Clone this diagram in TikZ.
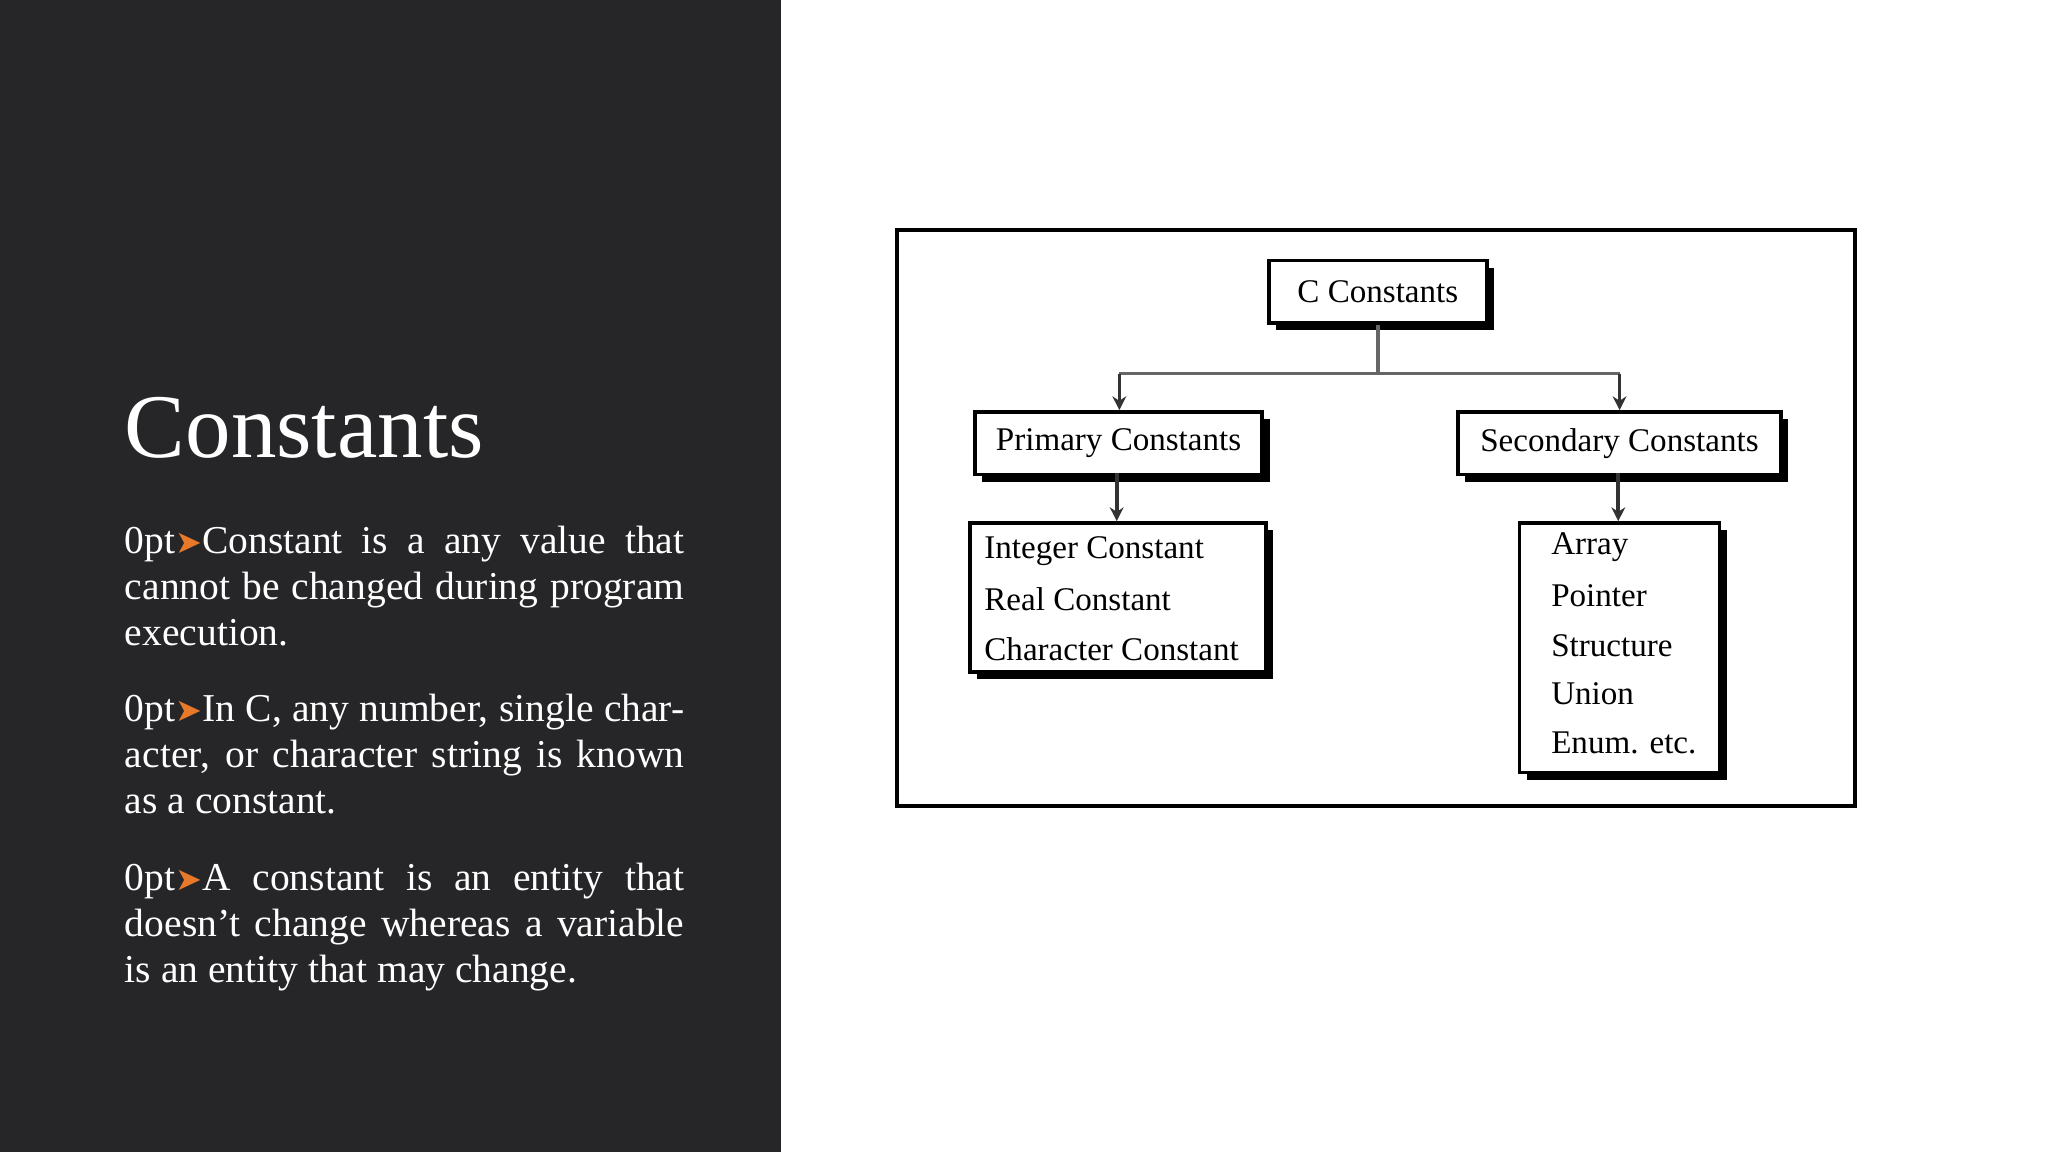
\documentclass[tikz,border=0pt]{standalone}
\usepackage{fontspec}
\setmainfont{Liberation Serif}
\newfontfamily\symfont{DejaVu Sans}
\usetikzlibrary{arrows.meta}
\definecolor{panel}{HTML}{262628}
\definecolor{arrowor}{HTML}{E8782A}
\newcommand{\bul}{{\color{arrowor}\symfont\fontsize{7pt}{10pt}\selectfont ➤}}
\tikzset{
 box/.style={draw=black,line width=0.8pt,fill=white},
 btxt/.style={font=\fontsize{7.2pt}{8pt}\selectfont,inner sep=0},
 para/.style={anchor=north west,text width=4.28cm,align=justify,inner sep=0,text=white,font=\fontsize{8.6pt}{10pt}\selectfont\hyphenpenalty=10000\exhyphenpenalty=10000},
 conn/.style={draw=gray!80!black,line width=0.8pt},
 arr/.style={conn,draw=black!80,-{Stealth[length=3pt,width=3pt]}}
}
\begin{document}
\begin{tikzpicture}[x=0.01cm,y=-0.01cm]
\useasboundingbox (0,0) rectangle (1568,882);
\fill[white] (0,0) rectangle (1568,882);
\fill[panel] (0,0) rectangle (598,882);
\node[anchor=base west,inner sep=0,text=white,font=\fontsize{19.8pt}{22pt}\selectfont] (title) at (95,350) {Constants};
\node[para] (p1) at (95,402) {\bul Constant is a any value that cannot be changed during program execution.};
\node[para] (p2) at (95,531) {\bul In C, any number, single character, or character string is known as a constant.};
\node[para] (p3) at (95,660) {\bul A constant is an entity that doesn't change whereas a variable is an entity that may change.};
% diagram frame
\draw[line width=0.9pt] (687,176) rectangle (1420,617);
% shadows
\fill (977,205) rectangle (1144,253);
\fill (752,321) rectangle (972,369);
\fill (1122,321) rectangle (1369,369);
\fill (748,406) rectangle (975,520);
\fill (1169,406) rectangle (1322,597);
% boxes
\node[box,minimum width=167*0.01cm,minimum height=48*0.01cm,anchor=north west] (c) at (970,198) {};
\node[btxt] at (c.center) {C Constants};
\node[box,minimum width=220*0.01cm,minimum height=48*0.01cm,anchor=north west] (pc) at (745,314) {};
\node[btxt] at (pc.center) {Primary Constants};
\node[box,minimum width=247*0.01cm,minimum height=48*0.01cm,anchor=north west] (sc) at (1115,314) {};
\node[btxt] at (sc.center) {Secondary Constants};
\node[box,minimum width=227*0.01cm,minimum height=114*0.01cm,anchor=north west] (pl) at (741,399) {};
\node[btxt,anchor=west] at (753,422) {Integer Constant};
\node[btxt,anchor=west] at (753,459) {Real Constant};
\node[btxt,anchor=west] at (753,497) {Character Constant};
\node[box,minimum width=153*0.01cm,minimum height=191*0.01cm,anchor=north west] (sl) at (1162,399) {};
\node[btxt,anchor=west] at (1187,419) {Array};
\node[btxt,anchor=west] at (1187,456) {Pointer};
\node[btxt,anchor=west] at (1187,494) {Structure};
\node[btxt,anchor=west] at (1187,531) {Union};
\node[btxt,anchor=west] at (1187,569) {Enum. etc.};
% connectors
\coordinate (j) at (1055,286);
\draw[conn] (c.south -| j) -- (j);
\draw[conn] (857,286) -- (1240,286);
\draw[arr] (857,286) -- (857,314);
\draw[arr] (1240,286) -- (1240,314);
\draw[arr] (855,362) -- (855,399);
\draw[arr] (1239,362) -- (1239,399);
\end{tikzpicture}
\end{document}
